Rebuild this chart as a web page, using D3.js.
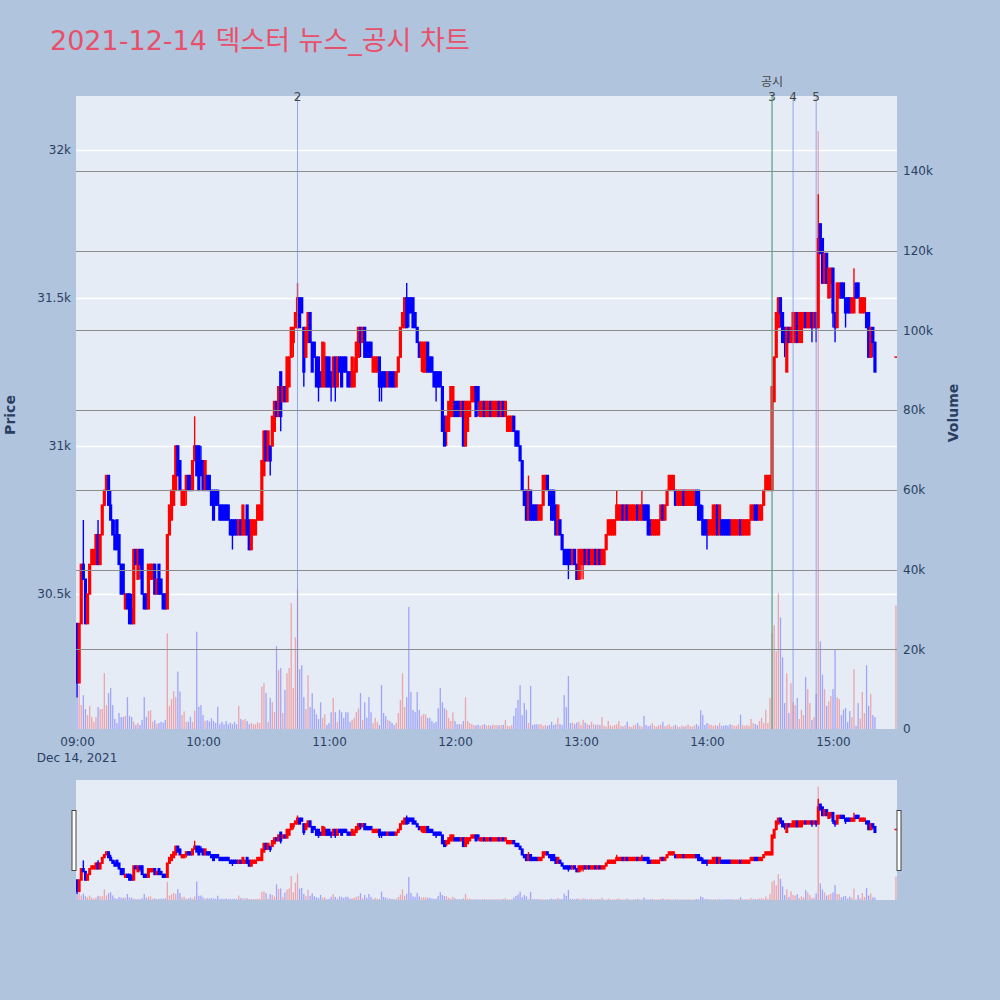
<!DOCTYPE html>
<html><head><meta charset="utf-8">
<script src="https://cdn.jsdelivr.net/npm/d3@7"></script>
<style>
body{margin:0;background:#b0c4de;}
text{font-family:"DejaVu Sans","Noto Sans CJK KR",sans-serif;}
</style>
</head><body>
<svg id="chart" width="1000" height="1000"></svg>
<script>
// ---------------- DATA ----------------
const chartTitle = "2021-12-14 덱스터 뉴스_공시 차트";
const sessionDate = "2021-12-14";
const firstMinute = "09:00"; // one candle per minute from here
const opens = [
30400,30200,30400,30600,30550,30400,30500,30600,30600,30600,
30700,30600,30700,30800,30850,30900,30800,30750,30700,30750,
30700,30600,30600,30450,30500,30500,30450,30400,30650,30550,
30650,30650,30500,30500,30450,30550,30550,30600,30500,30600,
30550,30500,30500,30450,30700,30750,30800,30850,31000,30950,
30800,30800,30850,30900,30900,30850,30950,31000,31000,30950,
30950,30850,30900,30900,30850,30850,30850,30850,30800,30800,
30800,30800,30800,30750,30750,30750,30750,30700,30750,30700,
30700,30800,30750,30650,30700,30700,30750,30750,30750,30900,
31050,30950,31000,31000,31050,31150,31100,31250,31150,31200,
31150,31200,31300,31350,31400,31400,31500,31500,31400,31300,
31350,31450,31350,31350,31300,31300,31250,31200,31200,31300,
31300,31250,31200,31300,31200,31300,31300,31300,31300,31250,
31250,31200,31200,31250,31300,31400,31350,31400,31350,31350,
31350,31250,31250,31250,31300,31250,31250,31250,31200,31250,
31250,31250,31200,31250,31300,31400,31400,31500,31500,31500,
31500,31450,31400,31350,31300,31250,31250,31350,31300,31300,
31250,31250,31250,31250,31200,31100,31050,31050,31100,31100,
31150,31150,31150,31100,31150,31000,31050,31100,31150,31150,
31200,31200,31100,31100,31150,31100,31100,31150,31100,31100,
31100,31150,31100,31150,31100,31050,31050,31050,31100,31050,
31050,31000,30950,30850,30850,30750,30850,30800,30800,30800,
30750,30750,30800,30850,30900,30850,30850,30850,30800,30700,
30750,30700,30650,30650,30650,30650,30600,30650,30600,30550,
30600,30600,30650,30600,30650,30600,30600,30650,30600,30650,
30600,30600,30650,30700,30700,30700,30700,30750,30750,30750,
30800,30750,30800,30750,30750,30750,30750,30800,30750,30750,
30800,30800,30800,30750,30700,30700,30700,30700,30750,30800,
30750,30800,30850,30850,30850,30850,30800,30800,30800,30850,
30800,30800,30800,30800,30800,30850,30850,30800,30750,30750,
30750,30700,30700,30700,30700,30800,30700,30750,30750,30750,
30750,30750,30700,30700,30700,30700,30750,30700,30700,30700,
30700,30750,30750,30800,30800,30750,30750,30800,30850,30850,
30850,30850,31150,31300,31400,31500,31450,31400,31250,31400,
31350,31350,31350,31450,31350,31350,31400,31450,31400,31400,
31450,31400,31450,31400,31750,31700,31550,31650,31500,31550,
31600,31450,31400,31500,31550,31550,31500,31500,31500,31450,
31450,31550,31550,31450,31450,31450,31450,31450,31300,31400,
31350];
const highs = [
30400,30400,30600,30750,30550,30500,30600,30650,30650,30700,
30750,30700,30800,30850,30900,30900,30850,30750,30750,30750,
30700,30600,30600,30500,30500,30500,30500,30650,30650,30650,
30650,30650,30500,30500,30600,30600,30600,30600,30550,30600,
30550,30500,30500,30700,30800,30850,30900,31000,31000,30950,
30850,30850,30900,30900,30900,30950,31100,31000,31000,31000,
30950,30950,30900,30900,30850,30850,30850,30850,30800,30800,
30800,30800,30800,30750,30750,30750,30750,30750,30750,30800,
30750,30800,30750,30750,30750,30750,30800,30800,30950,31050,
31050,31050,31000,31100,31150,31150,31200,31250,31200,31200,
31300,31300,31400,31400,31450,31550,31500,31500,31400,31400,
31450,31450,31350,31350,31300,31300,31250,31350,31350,31300,
31300,31250,31300,31300,31300,31300,31300,31300,31300,31250,
31250,31300,31300,31350,31400,31400,31400,31400,31350,31350,
31350,31300,31300,31300,31300,31250,31250,31250,31250,31250,
31250,31250,31250,31300,31400,31450,31500,31550,31500,31500,
31500,31450,31400,31350,31350,31350,31350,31350,31300,31300,
31250,31250,31250,31250,31200,31100,31100,31150,31200,31200,
31150,31150,31150,31150,31150,31150,31150,31150,31200,31200,
31200,31200,31150,31150,31150,31150,31150,31150,31150,31150,
31150,31150,31150,31150,31150,31100,31100,31100,31100,31050,
31050,31000,30950,30850,30850,30900,30850,30800,30800,30800,
30800,30800,30900,30900,30900,30850,30850,30850,30800,30800,
30750,30700,30650,30650,30650,30650,30650,30650,30600,30650,
30650,30650,30650,30650,30650,30650,30650,30650,30650,30650,
30650,30650,30700,30750,30750,30750,30750,30850,30800,30800,
30800,30800,30800,30800,30800,30800,30800,30800,30800,30850,
30800,30800,30800,30750,30750,30750,30750,30750,30800,30800,
30800,30850,30900,30900,30900,30850,30850,30850,30850,30850,
30850,30850,30850,30850,30850,30850,30850,30800,30800,30750,
30750,30750,30750,30800,30800,30800,30800,30750,30750,30750,
30750,30750,30750,30750,30750,30750,30750,30750,30750,30750,
30750,30800,30800,30800,30800,30800,30800,30850,30900,30900,
30900,31200,31300,31450,31500,31500,31450,31400,31400,31400,
31400,31450,31450,31450,31450,31450,31450,31450,31450,31450,
31450,31450,31450,31850,31750,31700,31650,31650,31600,31600,
31600,31450,31550,31550,31550,31550,31500,31500,31500,31500,
31600,31550,31550,31500,31500,31500,31450,31450,31400,31400,
31350];
const lows = [
30150,30200,30400,30550,30400,30400,30500,30600,30600,30600,
30600,30600,30700,30800,30850,30800,30750,30700,30650,30650,
30600,30500,30500,30450,30450,30400,30400,30400,30600,30550,
30550,30500,30450,30450,30450,30550,30550,30500,30500,30500,
30500,30450,30450,30450,30700,30750,30800,30850,30900,30850,
30800,30800,30800,30850,30850,30850,30950,30900,30850,30900,
30850,30850,30850,30850,30800,30750,30800,30800,30750,30750,
30750,30750,30750,30700,30650,30700,30700,30700,30700,30700,
30700,30700,30650,30650,30700,30700,30750,30750,30750,30900,
30950,30950,30900,31000,31050,31100,31100,31050,31150,31150,
31150,31200,31300,31300,31400,31400,31400,31450,31200,31300,
31350,31350,31250,31300,31200,31150,31200,31200,31200,31200,
31200,31150,31200,31150,31200,31250,31200,31250,31250,31200,
31200,31200,31200,31250,31300,31300,31350,31300,31300,31300,
31300,31250,31250,31250,31150,31150,31200,31200,31200,31200,
31200,31200,31200,31250,31300,31400,31400,31400,31400,31450,
31400,31400,31350,31300,31250,31250,31250,31250,31250,31250,
31200,31150,31200,31200,31050,31000,31000,31050,31100,31100,
31100,31100,31100,31100,31000,31000,31050,31100,31150,31150,
31100,31100,31100,31100,31100,31100,31100,31100,31100,31100,
31100,31100,31100,31100,31100,31050,31050,31050,31050,31000,
31000,30950,30850,30800,30750,30750,30750,30750,30750,30750,
30750,30750,30800,30850,30850,30800,30750,30750,30700,30700,
30700,30650,30600,30600,30550,30600,30600,30600,30550,30550,
30550,30550,30600,30600,30600,30600,30600,30600,30600,30600,
30600,30600,30650,30700,30700,30700,30700,30750,30750,30750,
30750,30750,30750,30750,30750,30750,30750,30750,30750,30750,
30750,30750,30700,30700,30700,30700,30700,30700,30750,30750,
30750,30800,30850,30850,30850,30800,30800,30800,30800,30800,
30800,30800,30800,30800,30800,30800,30750,30750,30700,30700,
30650,30700,30700,30700,30700,30700,30700,30700,30700,30700,
30700,30700,30700,30700,30700,30700,30700,30700,30700,30700,
30700,30750,30750,30750,30750,30750,30750,30800,30850,30850,
30850,30850,31150,31300,31400,31400,31350,31300,31250,31350,
31350,31350,31350,31350,31350,31350,31400,31400,31400,31400,
31350,31400,31350,31400,31650,31550,31550,31550,31500,31500,
31400,31350,31400,31500,31500,31500,31400,31450,31450,31450,
31450,31500,31500,31450,31450,31450,31400,31300,31300,31300,
31250];
const closes = [
30200,30400,30600,30550,30400,30500,30600,30650,30650,30700,
30600,30700,30800,30850,30900,30800,30750,30700,30650,30650,
30600,30500,30500,30500,30450,30400,30400,30650,30600,30650,
30600,30500,30450,30450,30600,30600,30600,30500,30550,30500,
30500,30450,30450,30700,30800,30850,30900,31000,30900,30850,
30850,30850,30900,30850,30850,30950,31000,30900,30850,30900,
30850,30950,30850,30850,30800,30750,30800,30800,30750,30750,
30750,30750,30750,30700,30700,30700,30700,30750,30700,30800,
30750,30700,30650,30750,30750,30750,30800,30800,30950,31050,
30950,31050,30950,31100,31150,31100,31200,31100,31200,31150,
31300,31300,31400,31400,31450,31500,31400,31450,31250,31400,
31450,31350,31250,31300,31200,31200,31200,31350,31300,31200,
31200,31200,31300,31200,31300,31250,31200,31250,31250,31200,
31200,31300,31250,31350,31400,31350,31400,31300,31300,31300,
31300,31300,31300,31300,31200,31200,31200,31200,31250,31200,
31200,31200,31250,31300,31400,31450,31500,31400,31450,31450,
31400,31400,31350,31300,31350,31350,31350,31250,31250,31250,
31200,31200,31200,31200,31050,31000,31100,31150,31200,31200,
31100,31100,31100,31150,31000,31150,31150,31150,31200,31200,
31100,31150,31150,31150,31100,31150,31150,31100,31150,31150,
31150,31100,31150,31100,31150,31100,31100,31100,31050,31000,
31000,30950,30850,30800,30750,30850,30750,30750,30750,30750,
30800,30800,30900,30900,30850,30800,30750,30750,30700,30800,
30700,30650,30600,30600,30600,30600,30650,30600,30550,30650,
30650,30650,30600,30650,30600,30650,30650,30600,30650,30600,
30650,30650,30700,30750,30750,30750,30750,30800,30800,30800,
30750,30800,30750,30800,30800,30800,30800,30750,30800,30800,
30750,30750,30700,30700,30750,30750,30750,30750,30800,30750,
30800,30850,30900,30900,30900,30800,30850,30850,30850,30800,
30850,30850,30850,30850,30850,30800,30750,30750,30700,30700,
30700,30750,30750,30800,30800,30700,30800,30700,30700,30700,
30700,30700,30750,30750,30750,30750,30700,30750,30750,30750,
30750,30800,30800,30750,30750,30800,30800,30850,30900,30900,
30900,31200,31300,31450,31500,31450,31350,31350,31400,31350,
31400,31450,31450,31350,31450,31450,31450,31400,31450,31450,
31400,31450,31400,31700,31650,31550,31650,31550,31600,31600,
31450,31400,31550,31550,31500,31500,31450,31450,31450,31500,
31500,31500,31500,31500,31500,31500,31400,31300,31400,31350,
31250];
const volumes = [
8000,11000,6000,8500,5000,3500,5800,3000,1800,3000,
5500,5000,5000,14000,6000,9000,10300,6000,2500,1500,
4000,3000,3000,3300,8000,3300,3000,1800,1000,1500,
1000,2300,8000,3000,4500,4700,1800,2200,1300,1500,
1800,1600,2300,24000,5800,7500,9500,8000,14400,9400,
3500,4400,1800,1800,3100,1800,4600,24400,5600,6000,
3500,2000,2200,1900,2700,2000,1500,5600,1200,1800,
1200,2000,1200,1600,1200,1800,1200,5800,2500,2200,
2500,2000,1200,1500,1200,1200,1700,1500,10600,11500,
9000,1800,7800,6700,4300,20800,14800,15300,4000,9800,
14000,15300,31600,10300,23000,35000,15000,16000,8000,5000,
13500,5500,9000,5000,3700,2500,6700,2800,3700,1000,
1500,4200,7800,4200,1800,4800,4200,2800,4200,4200,
1800,2300,2800,4200,5200,9000,2300,6700,2800,8000,
4200,1500,2800,1800,1000,11000,4000,3200,2300,2000,
1500,1000,1500,4000,7300,14000,5500,8000,30600,9300,
4800,4300,9300,4800,3300,3700,3700,2800,2800,2000,
1500,1800,5200,10300,6700,5200,4800,2800,2000,4200,
2000,1200,1200,1200,2000,8000,2000,1500,1200,1000,
900,1100,800,1000,1200,900,1000,800,1100,1000,
1000,900,1000,1000,2300,800,700,1000,3300,5300,
7300,11000,3500,6500,4800,1500,10800,1000,1200,1200,
1200,1200,800,1000,800,1000,1800,1000,1200,2800,
1200,1000,8500,5500,13300,1500,1600,1200,1600,1800,
1000,2300,1600,1200,1000,1800,1200,1000,1200,1000,
3000,800,600,2000,900,700,1000,1200,2000,800,
600,900,1800,700,500,900,1100,1500,800,600,
3300,1000,700,900,1500,800,600,900,1100,1800,
700,900,1200,600,800,1000,700,500,900,600,
800,1100,700,600,900,1200,800,4700,3500,1000,
1500,1200,1000,800,1000,800,1500,800,800,1000,
800,1200,1000,800,800,1200,3600,1000,800,1000,
800,2500,1500,1200,1000,2000,2800,1500,4800,1500,
7800,24000,26000,19500,34000,28000,18000,6500,14000,4000,
11500,6700,6000,7800,2500,4800,3500,13000,10000,6500,
2300,3000,8800,150000,22000,13600,10000,5800,7000,8300,
10000,19800,7900,7500,3500,4800,5300,1800,4500,3000,
15000,800,6500,2600,9300,4000,16000,5800,8800,3500,
3000];
// closing single-price auction
const auctionTime = "15:30";
const auctionPrice = 31300;
const auctionVolume = 31000;
// event markers
const eventLabels = ["2", "3", "4", "5"];
const eventTimes  = ["10:45", "14:31", "14:41", "14:52"];
const disclosureLabels = ["공시"];
const disclosureTimes  = ["14:31"];
// axes
const priceTicks = [30500, 31000, 31500, 32000];
const volumeTicks = [0, 20000, 40000, 60000, 80000, 100000, 120000, 140000];
const hourTicks = ["09:00","10:00","11:00","12:00","13:00","14:00","15:00"];
const dateLabel = "Dec 14, 2021";
const priceRange = [30044, 32182];
const volumeRange = [0, 158800];

// ---------------- DRAW ----------------
const parse = d3.timeParse("%Y-%m-%d %H:%M");
const t0 = parse(sessionDate + " " + firstMinute);
const rows = closes.map((c, i) => ({
  t: d3.timeMinute.offset(t0, i), o: opens[i], h: highs[i], l: lows[i], c: c, v: volumes[i]
}));
rows.push({t: parse(sessionDate + " " + auctionTime), o: auctionPrice, h: auctionPrice, l: auctionPrice, c: auctionPrice, v: auctionVolume});

const RED = "#ff0000", BLUE = "#0000ff", TXT = "#2a3f5f";
const P = {l: 76, r: 897, t: 96, b: 729};
const S = {t: 780, b: 900};

const svg = d3.select("#chart");
svg.append("rect").attr("width", 1000).attr("height", 1000).attr("fill", "#b0c4de");

const tEnd = parse(sessionDate + " " + auctionTime);
const x = d3.scaleTime()
  .domain([d3.timeSecond.offset(t0, -30), d3.timeSecond.offset(tEnd, 30)])
  .range([P.l, P.r]);
const yP = d3.scaleLinear().domain(priceRange).range([P.b, P.t]);
const yV = d3.scaleLinear().domain(volumeRange).range([P.b, P.t]);
const ySP = d3.scaleLinear().domain(priceRange).range([S.b, S.t]);
const ySV = d3.scaleLinear().domain(volumeRange).range([S.b, S.t]);

const defs = svg.append("defs");
defs.append("clipPath").attr("id", "clipMain").append("rect")
  .attr("x", P.l).attr("y", P.t).attr("width", P.r - P.l).attr("height", P.b - P.t);
defs.append("clipPath").attr("id", "clipSlider").append("rect")
  .attr("x", P.l).attr("y", S.t).attr("width", P.r - P.l).attr("height", S.b - S.t);

// plot background
svg.append("rect").attr("x", P.l).attr("y", P.t).attr("width", P.r - P.l).attr("height", P.b - P.t).attr("fill", "#e5ecf6");

// price grid (white)
svg.append("g").selectAll("line").data(priceTicks).join("line")
  .attr("x1", P.l).attr("x2", P.r)
  .attr("y1", d => Math.round(yP(d)) + 0.5).attr("y2", d => Math.round(yP(d)) + 0.5)
  .attr("stroke", "#ffffff").attr("stroke-width", 1.5);

function isUp(d) { return d.c >= d.o; }

function drawCandles(g, ys, bodyW, wickW) {
  g.selectAll("line.w").data(rows).join("line").attr("class", "w")
    .attr("x1", d => x(d.t)).attr("x2", d => x(d.t))
    .attr("y1", d => ys(d.h)).attr("y2", d => ys(d.l))
    .attr("stroke", d => isUp(d) ? RED : BLUE).attr("stroke-width", wickW);
  g.selectAll("rect.b").data(rows).join("rect").attr("class", "b")
    .attr("x", d => x(d.t) - bodyW / 2).attr("width", bodyW)
    .attr("y", d => Math.min(ys(d.o), ys(d.c)) - 0.75)
    .attr("height", d => Math.abs(ys(d.o) - ys(d.c)) + 1.5)
    .attr("fill", d => isUp(d) ? RED : BLUE);
}
function drawVolume(g, ys, w) {
  g.selectAll("rect").data(rows).join("rect")
    .attr("x", d => x(d.t) - w / 2).attr("width", w)
    .attr("y", d => ys(d.v)).attr("height", d => ys(0) - ys(d.v))
    .attr("fill", d => isUp(d) ? RED : BLUE).attr("opacity", 0.3);
}

const main = svg.append("g").attr("clip-path", "url(#clipMain)");
drawCandles(main.append("g"), yP, 3.2, 1.4);

// volume grid (gray)
svg.append("g").selectAll("line").data(volumeTicks.filter(v => v > 0)).join("line")
  .attr("x1", P.l).attr("x2", P.r)
  .attr("y1", d => Math.round(yV(d)) + 0.5).attr("y2", d => Math.round(yV(d)) + 0.5)
  .attr("stroke", "#8c8c8c").attr("stroke-width", 1);

drawVolume(main.append("g"), yV, 1.3);

// event lines
const evG = svg.append("g");
eventTimes.forEach((tm, i) => {
  const xx = x(parse(sessionDate + " " + tm));
  evG.append("line").attr("x1", xx).attr("x2", xx).attr("y1", P.t).attr("y2", P.b)
    .attr("stroke", "#7b8ee8").attr("stroke-opacity", 0.75).attr("stroke-width", 1);
  evG.append("text").attr("x", xx).attr("y", 101).attr("text-anchor", "middle")
    .attr("font-size", 12).attr("fill", "#444").text(eventLabels[i]);
});
disclosureTimes.forEach((tm, i) => {
  const xx = x(parse(sessionDate + " " + tm));
  evG.append("line").attr("x1", xx).attr("x2", xx).attr("y1", P.t).attr("y2", P.b)
    .attr("stroke", "#4caf50").attr("stroke-opacity", 0.8).attr("stroke-width", 1);
  evG.append("text").attr("x", xx).attr("y", 85.5).attr("text-anchor", "middle")
    .attr("font-size", 12).attr("fill", "#444").text(disclosureLabels[i]);
});

// axes
function styleAxis(g) {
  g.select(".domain").remove();
  g.selectAll(".tick line").remove();
  g.selectAll("text").attr("fill", TXT).attr("font-size", 12)
    .attr("font-family", "'DejaVu Sans', sans-serif");
}
svg.append("g").attr("transform", `translate(${P.l},0)`)
  .call(d3.axisLeft(yP).tickValues(priceTicks).tickSize(0).tickPadding(5)
    .tickFormat(d => d3.format("~s")(d)))
  .call(styleAxis);
svg.append("g").attr("transform", `translate(${P.r},0)`)
  .call(d3.axisRight(yV).tickValues(volumeTicks).tickSize(0).tickPadding(6)
    .tickFormat(d => d3.format("~s")(d)))
  .call(styleAxis);
const hourDates = hourTicks.map(h => parse(sessionDate + " " + h));
svg.append("g").attr("transform", `translate(0,${P.b})`)
  .call(d3.axisBottom(x).tickValues(hourDates).tickSize(0).tickPadding(8)
    .tickFormat(d3.timeFormat("%H:%M")))
  .call(styleAxis);
svg.append("text").attr("x", x(hourDates[0])).attr("y", 761.5).attr("text-anchor", "middle")
  .attr("font-size", 12).attr("fill", TXT).text(dateLabel);

// axis titles
svg.append("text").attr("transform", "translate(15,415) rotate(-90)").attr("text-anchor", "middle")
  .attr("font-size", 14).attr("font-weight", "bold").attr("fill", TXT).text("Price");
svg.append("text").attr("transform", "translate(958,413) rotate(-90)").attr("text-anchor", "middle")
  .attr("font-size", 14).attr("font-weight", "bold").attr("fill", TXT).text("Volume");

// title
svg.append("text").attr("x", 50).attr("y", 50).attr("font-size", 27)
  .attr("fill", "#e8506a").text(chartTitle);

// range slider
svg.append("rect").attr("x", P.l).attr("y", S.t).attr("width", P.r - P.l).attr("height", S.b - S.t)
  .attr("fill", "#e5ecf6");
const sl = svg.append("g").attr("clip-path", "url(#clipSlider)");
drawCandles(sl.append("g"), ySP, 3, 1.4);
drawVolume(sl.append("g"), ySV, 1.3);
[P.l - 2, P.r + 2].forEach(hx => {
  svg.append("rect").attr("x", hx - 2).attr("y", 810.5).attr("width", 4).attr("height", 60)
    .attr("fill", "#fff").attr("stroke", "#444").attr("stroke-width", 1);
});
</script>
</body></html>
